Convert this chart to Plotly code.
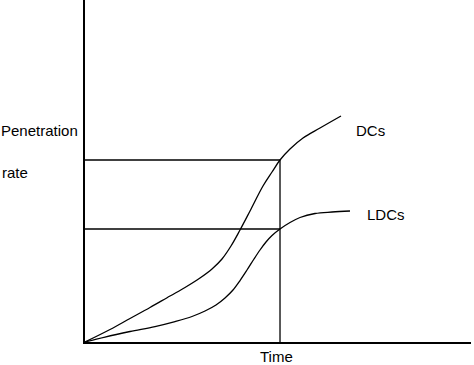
import plotly.graph_objects as go

# Time axis values (0-100 scale) and penetration rate (0-100 scale)
dc_time = [0, 6.48, 11.66, 16.84, 22.02, 25.91, 29.79, 32.90, 35.49, 37.82, 40.16, 42.75,
           46.11, 48.45, 50.52, 53.11, 56.48, 60.88, 66.32]
dc_rate = [0, 3.65, 6.87, 10.09, 13.45, 15.94, 18.71, 21.35, 24.27, 28.07, 32.75, 38.30,
           45.61, 49.71, 53.22, 56.43, 59.65, 62.57, 66.08]

ldc_time = [0, 5.18, 11.66, 18.13, 23.32, 27.72, 31.09, 33.94, 36.27, 38.34, 40.16, 41.97,
            43.78, 45.34, 46.89, 48.45, 50.52, 53.11, 55.70, 59.59, 63.99, 68.65]
ldc_rate = [0, 1.46, 3.07, 4.53, 5.99, 7.46, 9.06, 10.82, 12.87, 15.20, 17.98, 21.05,
            24.27, 26.90, 29.24, 31.14, 33.04, 34.94, 36.40, 37.57, 38.01, 38.30]

marker_time = 50.52
dc_level = 53.22
ldc_level = 33.04

series_labels = ["DCs", "LDCs"]
x_label = "Time"
y_label_lines = ["Penetration", "rate"]

FONT = "Liberation Sans, Arial, sans-serif"
LW = 1.3

fig = go.Figure()
fig.add_trace(go.Scatter(x=dc_time, y=dc_rate, mode="lines", line=dict(color="black", width=LW, shape="spline", smoothing=1.0), hoverinfo="skip"))
fig.add_trace(go.Scatter(x=ldc_time, y=ldc_rate, mode="lines", line=dict(color="black", width=LW, shape="spline", smoothing=1.0), hoverinfo="skip"))

# guide lines
fig.add_trace(go.Scatter(x=[0, marker_time], y=[dc_level, dc_level], mode="lines", line=dict(color="black", width=LW), hoverinfo="skip"))
fig.add_trace(go.Scatter(x=[0, marker_time], y=[ldc_level, ldc_level], mode="lines", line=dict(color="black", width=LW), hoverinfo="skip"))
fig.add_trace(go.Scatter(x=[marker_time, marker_time], y=[0, dc_level], mode="lines", line=dict(color="black", width=LW), hoverinfo="skip"))

W, H = 474, 365
L, R, T, B = 85, 3, 0, 23
pw, ph = W - L - R, H - T - B

def px_x(p):
    return (p - L) / pw

def px_y(p):
    return (H - B - p) / ph

ann = [
    dict(text=y_label_lines[0], x=px_x(-1), y=px_y(130), xanchor="left"),
    dict(text=y_label_lines[1], x=px_x(0), y=px_y(172), xanchor="left"),
    dict(text=series_labels[0], x=px_x(354), y=px_y(130), xanchor="left"),
    dict(text=series_labels[1], x=px_x(365), y=px_y(214), xanchor="left"),
    dict(text=x_label, x=px_x(276), y=px_y(357), xanchor="center"),
]
for a in ann:
    fig.add_annotation(text=a["text"], x=a["x"], y=a["y"], xref="paper", yref="paper",
                       xanchor=a["xanchor"], yanchor="middle", showarrow=False,
                       font=dict(family=FONT, size=15, color="black"))

fig.update_layout(
    width=W, height=H,
    margin=dict(l=L, r=R, t=T, b=B, pad=0),
    paper_bgcolor="white", plot_bgcolor="white",
    showlegend=False,
    xaxis=dict(range=[0, 100], showline=True, linecolor="black", linewidth=1.5,
               showgrid=False, zeroline=False, showticklabels=False, ticks=""),
    yaxis=dict(range=[0, 100], showline=True, linecolor="black", linewidth=1.5,
               showgrid=False, zeroline=False, showticklabels=False, ticks=""),
)

fig.write_html("out.html", config={"displayModeBar": False},
               post_script="document.body.style.margin='0';")
